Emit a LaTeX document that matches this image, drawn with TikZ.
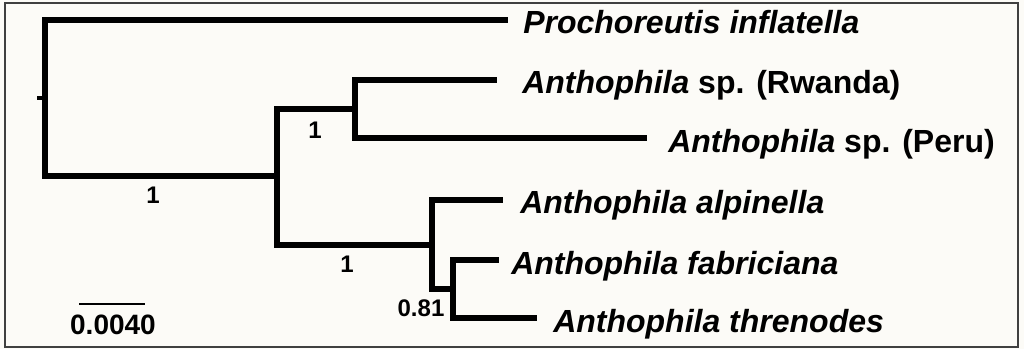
\documentclass[tikz,border=0pt]{standalone}
\usepackage{fontspec}
\setmainfont{Liberation Sans}
\usepackage{tikz}
\definecolor{paper}{RGB}{252,251,247}

\begin{document}
\begin{tikzpicture}[x=0.75pt,y=-0.75pt,line join=miter,
  branch/.style={line width=4.3pt},
  taxon/.style={anchor=base west,inner sep=0pt,font=\fontsize{24}{24}\selectfont\bfseries},
  support/.style={inner sep=0pt,font=\fontsize{18}{18}\selectfont\bfseries}]
\fill[paper] (0,0) rectangle (1024,349);
\useasboundingbox (0,0) rectangle (1024,349);
\draw[black!75,line width=1.2pt] (5,3) rectangle (1018,347);
% internal nodes
\coordinate (stub) at (37,98);
\coordinate (root) at (45,98);
\coordinate (nA) at (277,176);
\coordinate (nB) at (355,109);
\coordinate (nC) at (432,245);
\coordinate (nD) at (453,289);
% tips
\coordinate (tProch) at (508,20);
\coordinate (tRwanda) at (497,80);
\coordinate (tPeru) at (647,138);
\coordinate (tAlp) at (503,200);
\coordinate (tFab) at (499,260);
\coordinate (tThren) at (537,318);
\draw[line width=3.4pt] (stub) -- (root);
\draw[branch] (root) |- (tProch);
\draw[branch] (root) |- (nA);
\draw[branch] (nA) |- (nB);
\draw[branch] (nA) |- (nC);
\draw[branch] (nB) |- (tRwanda);
\draw[branch] (nB) |- (tPeru);
\draw[branch] (nC) |- (tAlp);
\draw[branch] (nC) |- (nD);
\draw[branch] (nD) |- (tFab);
\draw[branch] (nD) |- (tThren);
% taxa
\node[taxon] (lProch) at (523,34) {\textit{Prochoreutis inflatella}};
\node[taxon] (lRwanda) at (522,94) {\textit{Anthophila} sp. (Rwanda)};
\node[taxon] (lPeru) at (668,152) {\textit{Anthophila} sp. (Peru)};
\node[taxon] (lAlp) at (520,214) {\textit{Anthophila alpinella}};
\node[taxon] (lFab) at (511,274) {\textit{Anthophila fabriciana}};
\node[taxon] (lThren) at (553,332) {\textit{Anthophila threnodes}};
% support values
\node[support] (sRoot) at (153,195) {1};
\node[support] (sB) at (315,130) {1};
\node[support] (sC) at (347,264) {1};
\node[support] (sD) at (421,308) {0.81};
% scale bar
\coordinate (sbl) at (79,304);
\coordinate (sbr) at (145,304);
\draw[line width=1.5pt] (sbl) -- (sbr);
\node[inner sep=0pt,font=\fontsize{21}{21}\selectfont\bfseries] (sbText) at (113,325) {0.0040};
\end{tikzpicture}
\end{document}
